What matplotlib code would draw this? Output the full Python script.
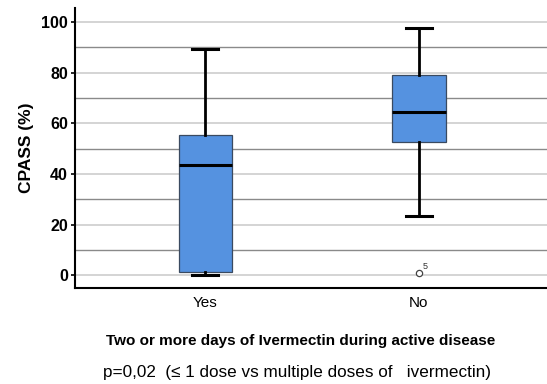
import matplotlib
matplotlib.use("Agg")
import matplotlib.pyplot as plt

plt.rcParams['font.family'] = ['Liberation Sans', 'DejaVu Sans']

# CPASS (%) summary by ivermectin group
groups = ["Yes", "No"]
q1 = [1.5, 52.7]
medians = [43.7, 64.5]
q3 = [55.2, 79.0]
whisker_low = [0.2, 23.3]
whisker_high = [89.5, 97.8]
outliers = [[], [0.8]]
outlier_ids = [[], ["5"]]

stats = []
for i, g in enumerate(groups):
    stats.append({
        "label": g,
        "q1": q1[i], "med": medians[i], "q3": q3[i],
        "whislo": whisker_low[i], "whishi": whisker_high[i],
        "fliers": outliers[i],
    })

fig = plt.figure(figsize=(5.47, 3.84), dpi=100)
ax = fig.add_axes([75 / 547, 1 - 288 / 384, (547 - 75) / 547, (288 - 8) / 384])

# gridlines: light at labelled ticks, darker in between
for v in range(0, 101, 20):
    ax.axhline(v, color="#d4d4d4", lw=1.4, zorder=0)
for v in range(10, 100, 20):
    ax.axhline(v, color="#8a8a8a", lw=1.0, zorder=0)

positions = [1, 2]
ax.bxp(stats, positions=positions, widths=0.25, patch_artist=True,
       showfliers=True,
       boxprops=dict(facecolor="#5592e0", edgecolor="#3a4a60", linewidth=0.9),
       medianprops=dict(color="black", linewidth=2.2),
       whiskerprops=dict(color="black", linewidth=2.0),
       capprops=dict(color="black", linewidth=2.2),
       capwidths=0.12,
       flierprops=dict(marker="o", markersize=4.5, markerfacecolor="white",
                       markeredgecolor="#444444", markeredgewidth=0.9))

for pos, vals, ids in zip(positions, outliers, outlier_ids):
    for v, lab in zip(vals, ids):
        ax.annotate(lab, (pos, v), xytext=(2.5, 3), textcoords="offset points",
                    fontsize=6.5, color="#333333")

ax.set_xlim(0.39, 2.6)
ax.set_ylim(-5, 105.5)
ax.set_yticks(range(0, 101, 20))
ax.set_xticks(positions)
ax.set_xticklabels(groups, fontsize=11)
ax.tick_params(axis="x", length=0, pad=6)
ax.tick_params(axis="y", length=3, width=1.2, pad=2, labelsize=11.5)
for lab in ax.get_yticklabels():
    lab.set_fontweight("bold")

for s in ["top", "right"]:
    ax.spines[s].set_visible(False)
for s in ["left", "bottom"]:
    ax.spines[s].set_linewidth(1.5)

ax.set_ylabel("CPASS (%)", fontsize=12.5, fontweight="bold", labelpad=5)
ax.set_xlabel("Two or more days of Ivermectin during active disease",
              fontsize=11, fontweight="bold")
ax.xaxis.set_label_coords(0.477, -0.165)
fig.text(297 / 547, 1 - 373 / 384,
         "p=0,02  (≤ 1 dose vs multiple doses of   ivermectin)",
         ha="center", va="center", fontsize=12.3)

fig.savefig("out.png", dpi=100)
